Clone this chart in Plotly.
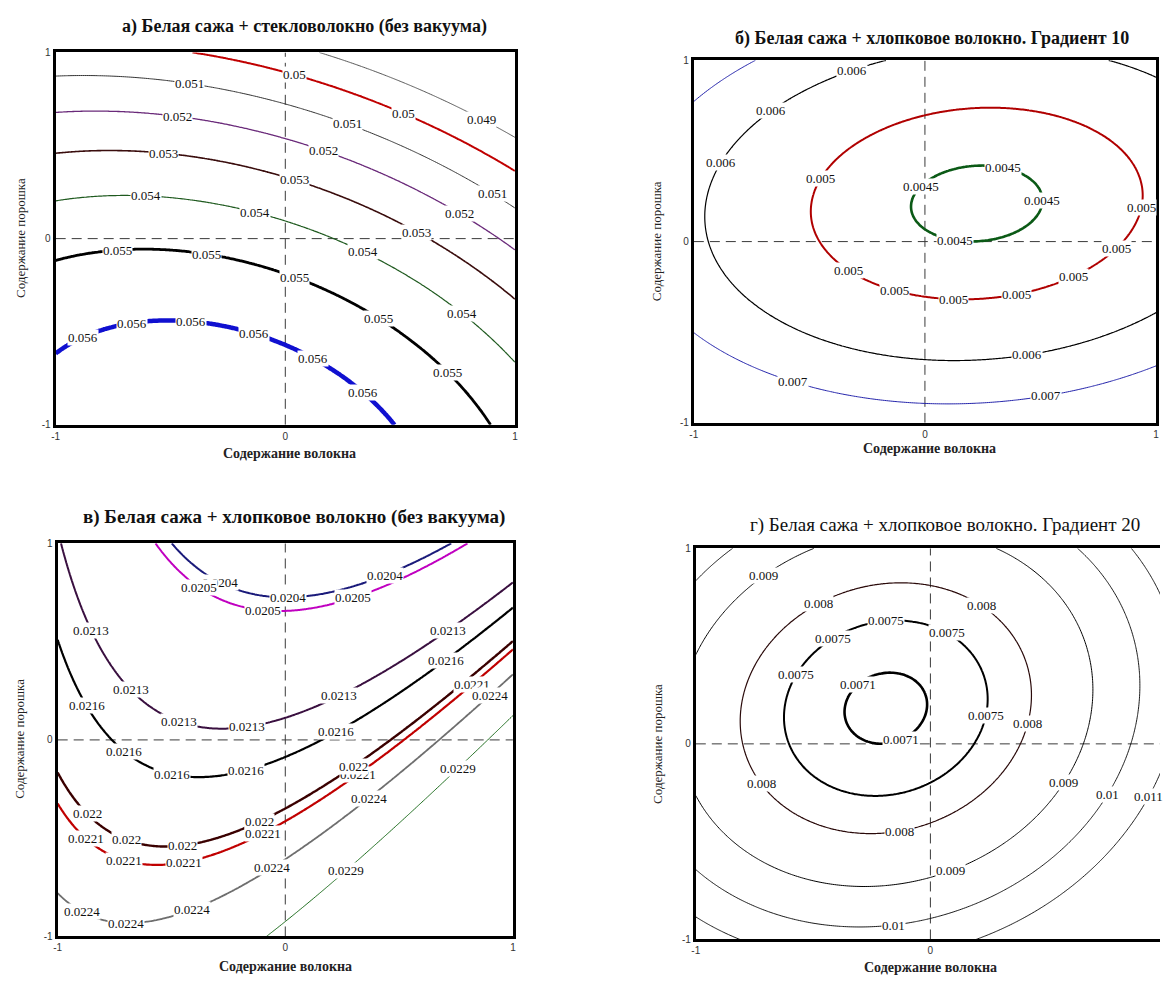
import numpy as np
import plotly.graph_objects as go

# Response-surface models  z = b0 + b1*x + b2*y + b11*x^2 + b22*y^2 + b12*x*y
# (x = содержание волокна, y = содержание порошка, coded units -1..1)
COEF_A = [5.435839e-02, -1.460015e-03, -3.655377e-03, -1.152350e-03, -1.367011e-03, -6.486855e-04]
COEF_B = [4.547164e-03, -4.645965e-04, -8.389162e-04, 1.158063e-03, 2.136594e-03, -2.611207e-04]
COEF_V = [2.146891e-02, 6.497464e-04, -1.506697e-03, 1.078728e-03, 4.557045e-05, -8.982190e-04]
COEF_G = [7.211765e-03, 1.069255e-03, -9.754196e-04, 2.567132e-03, 2.406705e-03, -5.153183e-04]

# contour levels drawn on each panel
LEVELS_A = [0.049, 0.05, 0.051, 0.052, 0.053, 0.054, 0.055, 0.056]
LEVELS_B = [0.0045, 0.005, 0.006, 0.007]
LEVELS_V = [0.0204, 0.0205, 0.0213, 0.0216, 0.022, 0.0221, 0.0224, 0.0229]
LEVELS_G = [0.0071, 0.0075, 0.008, 0.009, 0.01, 0.011]

TITLES = [
    "а) Белая сажа + стекловолокно (без вакуума)",
    "б) Белая сажа + хлопковое волокно. Градиент 10",
    "в) Белая сажа + хлопковое волокно (без вакуума)",
    "г) Белая сажа + хлопковое волокно. Градиент 20",
]
X_TITLE = "Содержание волокна"
Y_TITLE = "Содержание порошка"
TICK_VALS = [-1, 0, 1]
TICK_TEXT = ["-1", "0", "1"]

# line styles per level (colour, width)
STYLE_A = [('#555555', 1.0), ('#c00000', 2.0), ('#333333', 1.0), ('#6a2a7a', 1.3),
           ('#3a0d0d', 1.6), ('#1f5a1f', 1.2), ('#000000', 2.8), ('#1010d0', 4.5)]
STYLE_B = [('#0b5a16', 2.6), ('#b00000', 2.0), ('#000000', 1.2), ('#2222aa', 1.0)]
STYLE_V = [('#1a1a7a', 2.0), ('#c000c0', 2.0), ('#3a1040', 2.0), ('#000000', 2.2),
           ('#3a0000', 2.4), ('#c00000', 2.2), ('#6e6e6e', 1.8), ('#1a6a1a', 1.0)]
STYLE_G = [('#000000', 2.6), ('#000000', 2.0), ('#2a0a0a', 1.2), ('#000000', 1.0),
           ('#000000', 0.9), ('#000000', 0.9)]

# approximate spots where the level labels sit along each curve (level, x, y)
LABELS_A = [(0.05, 0.036, 0.874), (0.05, 0.502, 0.653), (0.049, 0.839, 0.614),
            (0.051, -0.418, 0.827), (0.051, 0.261, 0.593), (0.051, 0.875, 0.208),
            (0.052, -0.470, 0.646), (0.052, 0.157, 0.452), (0.052, 0.735, 0.105),
            (0.053, -0.529, 0.461), (0.053, 0.033, 0.296), (0.053, 0.550, 0.001),
            (0.054, -0.606, 0.225), (0.054, -0.136, 0.128), (0.054, 0.322, -0.098), (0.054, 0.730, -0.438),
            (0.055, -0.730, -0.054), (0.055, -0.346, -0.096), (0.055, 0.033, -0.225),
            (0.055, 0.382, -0.461), (0.055, 0.663, -0.756),
            (0.056, -0.899, -0.499), (0.056, -0.671, -0.438), (0.056, -0.409, -0.446),
            (0.056, -0.141, -0.526), (0.056, 0.104, -0.671), (0.056, 0.309, -0.857)]
LABELS_B = [(0.006, -0.325, 0.963), (0.006, -0.687, 0.744), (0.006, -0.930, 0.458), (0.006, 0.438, -0.613),
            (0.007, -0.580, -0.790), (0.007, 0.523, -0.839),
            (0.005, -0.501, 0.370), (0.005, 0.867, 0.196), (0.005, 0.793, -0.010), (0.005, 0.624, -0.163),
            (0.005, 0.390, -0.273), (0.005, 0.122, -0.321), (0.005, -0.140, -0.288), (0.005, -0.355, -0.191),
            (0.0045, -0.057, 0.337), (0.0045, 0.326, 0.375), (0.0045, 0.423, 0.224), (0.0045, 0.130, 0.005)]
LABELS_V = [(0.0204, 0.423, 0.876), (0.0204, 0.011, 0.733), (0.0204, -0.303, 0.776),
            (0.0205, -0.405, 0.741), (0.0205, 0.285, 0.763), (0.0205, -0.098, 0.666),
            (0.0213, -0.921, 0.534), (0.0213, -0.727, 0.220), (0.0213, -0.473, 0.083),
            (0.0213, -0.171, 0.094), (0.0213, 0.210, 0.273), (0.0213, 0.677, 0.609),
            (0.0216, -0.940, 0.145), (0.0216, -0.742, -0.093), (0.0216, -0.497, -0.178),
            (0.0216, -0.182, -0.119), (0.0216, 0.197, 0.086), (0.0216, 0.665, 0.454),
            (0.0221, -0.924, -0.540), (0.0221, -0.715, -0.627), (0.0221, -0.448, -0.599),
            (0.0221, -0.121, -0.437), (0.0221, 0.277, -0.119), (0.0221, 0.769, 0.337),
            (0.022, -0.916, -0.410), (0.022, -0.702, -0.520), (0.022, -0.452, -0.524),
            (0.022, -0.131, -0.382), (0.022, 0.269, -0.098),
            (0.0224, -0.916, -0.908), (0.0224, -0.698, -0.925), (0.0224, -0.424, -0.833),
            (0.0224, -0.089, -0.607), (0.0224, 0.326, -0.248), (0.0224, 0.850, 0.275),
            (0.0229, 0.221, -0.621), (0.0229, 0.705, -0.094)]
LABELS_G = [(0.009, -0.733, 0.884), (0.009, 0.528, -0.178), (0.009, 0.073, -0.620),
            (0.008, -0.491, 0.740), (0.008, 0.198, 0.681), (0.008, 0.367, 0.115),
            (0.008, -0.777, -0.240), (0.008, -0.135, -0.426),
            (0.0075, -0.188, 0.622), (0.0075, -0.433, 0.566), (0.0075, 0.051, 0.538),
            (0.0075, -0.635, 0.385), (0.0075, 0.169, 0.157),
            (0.0071, -0.340, 0.331), (0.0071, -0.147, 0.069),
            (0.01, 0.733, -0.245), (0.01, -0.161, -0.908), (0.011, 0.880, -0.245)]

SERIF = "'Liberation Serif', 'Times New Roman', Times, serif"
SANS = "'Liberation Sans', Arial, sans-serif"
W, H = 1163, 981


def surface(c, x, y):
    return c[0] + c[1]*x + c[2]*y + c[3]*x*x + c[4]*y*y + c[5]*x*y


def on_curve(c, lev, x, y):
    # slide a label spot onto its contour line along the gradient
    for _ in range(30):
        gx = c[1] + 2*c[3]*x + c[5]*y
        gy = c[2] + 2*c[4]*y + c[5]*x
        g2 = gx*gx + gy*gy
        d = (surface(c, x, y) - lev) / g2
        x, y = x - d*gx, y - d*gy
    return x, y


def fmt(v):
    return f"{v:.4f}".rstrip('0')


# panel frames in pixels: (x0, x1), (y0, y1)
panels = [
    dict(c=COEF_A, lev=LEVELS_A, sty=STYLE_A, lab=LABELS_A, px=((52, 514), (47, 424)), xr=[-1, 1]),
    dict(c=COEF_B, lev=LEVELS_B, sty=STYLE_B, lab=LABELS_B, px=((694, 1159), (55, 422)), xr=[-1, 1]),
    dict(c=COEF_V, lev=LEVELS_V, sty=STYLE_V, lab=LABELS_V, px=((54, 512), (544, 942)), xr=[-1, 1]),
    dict(c=COEF_G, lev=LEVELS_G, sty=STYLE_G, lab=LABELS_G, px=((696, 1168), (549, 945)),
         xr=[-1, (W - 932) / 236]),
]

grid = np.linspace(-1, 1, 241)
GX, GY = np.meshgrid(grid, grid)

fig = go.Figure()
layout = dict(width=W, height=H, margin=dict(l=0, r=0, t=0, b=0),
              paper_bgcolor='white', plot_bgcolor='white', showlegend=False)
shapes, ann = [], []

for i, p in enumerate(panels, start=1):
    c = p['c']
    Z = surface(c, GX, GY)
    xa = 'x' if i == 1 else f'x{i}'
    ya = 'y' if i == 1 else f'y{i}'
    for lev, (col, w) in zip(p['lev'], p['sty']):
        fig.add_trace(go.Contour(
            x=grid, y=grid, z=Z, xaxis=xa, yaxis=ya, autocontour=False,
            contours=dict(start=lev, end=lev, size=1, coloring='none', showlabels=False),
            line=dict(color=col, width=w, smoothing=1.0), showscale=False, hoverinfo='skip'))
    (x0, x1), (y0, y1) = p['px']
    axis_style = dict(tickvals=TICK_VALS, ticktext=TICK_TEXT, showgrid=False, zeroline=False,
                      showline=True, linecolor='black', linewidth=3, ticks='',
                      tickfont=dict(family=SANS, size=10, color='#333333'))
    layout['xaxis' if i == 1 else f'xaxis{i}'] = dict(
        domain=[x0 / W, min(x1, W) / W], range=p['xr'], anchor=ya, mirror=True, **axis_style)
    layout['yaxis' if i == 1 else f'yaxis{i}'] = dict(
        domain=[1 - y1 / H, 1 - y0 / H], range=[-1, 1], anchor=xa, mirror=(i != 4), **axis_style)
    for a, b, cc, dd in [(0, 0, -1, 1), (-1, 1, 0, 0)]:
        shapes.append(dict(type='line', xref=xa, yref=ya, x0=a, x1=b, y0=cc, y1=dd, layer='below',
                           line=dict(color='#3a3a3a', width=1, dash='10px,6px')))
    for lev, lx, ly in p['lab']:
        sx, sy = on_curve(c, lev, lx, ly)
        ann.append(dict(text=fmt(lev), x=sx, y=sy, xref=xa, yref=ya, showarrow=False,
                        xanchor='center', yanchor='middle', bgcolor='white', borderpad=0,
                        font=dict(family=SERIF, size=13, color='#111111')))

title_pos = [(302, 21, 18, True), (934, 33, 18, True), (292, 517, 19, True), (947, 525, 19, False)]
for t, (x, y, s, bold) in zip(TITLES, title_pos):
    ann.append(dict(text=f"<b>{t}</b>" if bold else t, x=x / W, y=1 - y / H, xref='paper', yref='paper',
                    xanchor='center', yanchor='middle', showarrow=False,
                    font=dict(family=SERIF, size=s, color='#111111')))
for x, y in [(287, 453), (931, 448), (283, 972), (932, 973)]:
    ann.append(dict(text=f"<b>{X_TITLE}</b>", x=x / W, y=1 - y / H, xref='paper', yref='paper',
                    xanchor='center', yanchor='middle', showarrow=False,
                    font=dict(family=SERIF, size=14, color='#222222')))
for x, y in [(16, 235), (656, 238), (16, 742), (658, 747)]:
    ann.append(dict(text=Y_TITLE, x=x / W, y=1 - y / H, xref='paper', yref='paper',
                    xanchor='center', yanchor='middle', showarrow=False, textangle=-90,
                    font=dict(family=SERIF, size=13, color='#222222')))

layout['shapes'] = shapes
layout['annotations'] = ann
fig.update_layout(**layout)
fig.write_html("out.html")
